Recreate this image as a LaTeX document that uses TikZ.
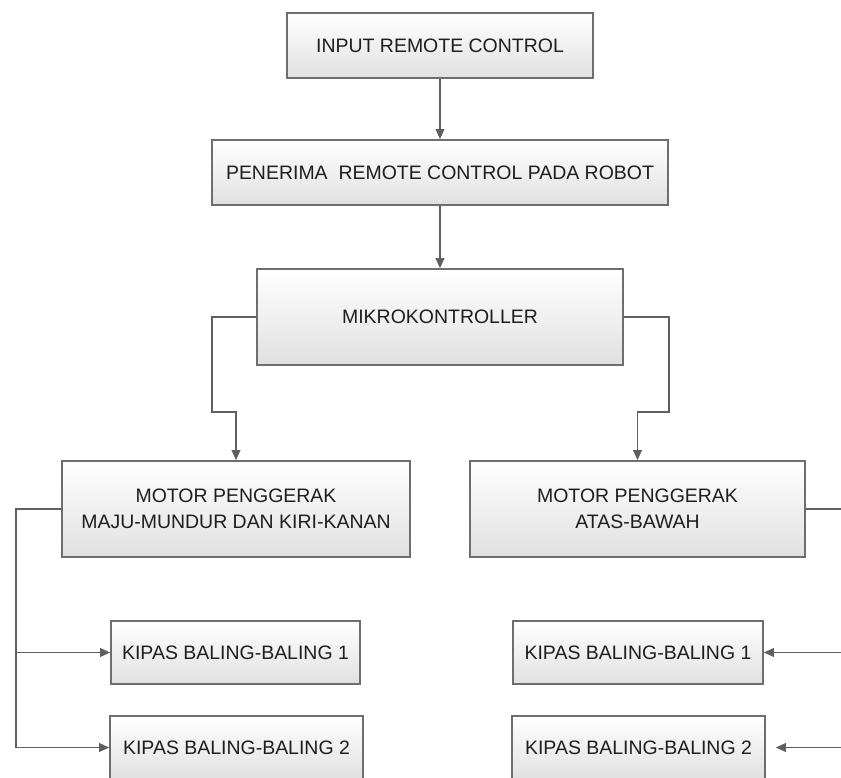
\documentclass[tikz,border=0pt]{standalone}
\usepackage{fontspec}
\setmainfont{Liberation Sans}
\usepackage{tikz}
\usetikzlibrary{arrows.meta,shadows}
\definecolor{boxline}{RGB}{110,110,110}
\definecolor{boxtext}{RGB}{30,30,30}
\definecolor{wireline}{RGB}{95,95,95}

\begin{document}
\begin{tikzpicture}[x=0.75pt, y=-0.75pt,
    blok/.style={draw=boxline, line width=1.2pt, top color=white, bottom color=black!12,
        text=boxtext, font=\fontsize{14.6}{19.3}\selectfont, align=center, inner sep=0pt,
        drop shadow={shadow xshift=0.8pt, shadow yshift=-0.8pt, opacity=0.25}},
    wire/.style={draw=wireline, line width=1.1pt},
    arr/.style={wire, -{Triangle[length=7.5pt,width=6.5pt]}}]
    \useasboundingbox (0,0) rectangle (841,777);
    \clip (0,0) rectangle (841,777);

    % Remote and receiver
    \node[blok, minimum width=229.5pt, minimum height=48.75pt] (inp) at (440,45.5) {INPUT REMOTE CONTROL};
    \node[blok, minimum width=342pt, minimum height=48.75pt] (rcv) at (440,172.5) {PENERIMA~ REMOTE CONTROL PADA ROBOT};

    % Controller
    \node[blok, minimum width=274.5pt, minimum height=72pt] (mcu) at (440,317) {MIKROKONTROLLER};

    % Drive motors
    \node[blok, minimum width=261pt, minimum height=72pt] (motorA) at (236,509) {MOTOR PENGGERAK\\MAJU-MUNDUR DAN KIRI-KANAN};
    \node[blok, minimum width=251.25pt, minimum height=72pt] (motorB) at (637.5,509) {MOTOR PENGGERAK\\ATAS-BAWAH};

    % Propellers
    \node[blok, minimum width=186.75pt, minimum height=47.25pt] (kipasA1) at (235.5,652.5) {KIPAS BALING-BALING 1};
    \node[blok, minimum width=189.75pt, minimum height=47.25pt] (kipasA2) at (236.5,747.5) {KIPAS BALING-BALING 2};
    \node[blok, minimum width=187.5pt, minimum height=47.25pt] (kipasB1) at (638,652.5) {KIPAS BALING-BALING 1};
    \node[blok, minimum width=189.75pt, minimum height=47.25pt] (kipasB2) at (638.5,747.5) {KIPAS BALING-BALING 2};

    % Bends and free ends
    \coordinate (bendL) at (212,412);
    \coordinate (bendR) at (669,412);
    \coordinate (busL) at (16,747.5);
    \coordinate (offR) at (850,509);

    % Connectors
    \draw[arr] (inp) -- (rcv);
    \draw[arr] (rcv) -- (mcu);
    \draw[arr] (mcu.west) -| (bendL) -| (motorA);
    \draw[arr] (mcu.east) -| (bendR) -| (motorB);
    \draw[arr] (motorA.west) -| (busL) -- (kipasA2.west);
    \draw[arr] (busL |- kipasA1.west) -- (kipasA1.west);
    \draw[wire] (motorB.east) -- (offR);
    \draw[arr] (offR |- kipasB1.east) -- (kipasB1.east);
    \draw[arr, shorten >=7.5pt] (offR |- kipasB2.east) -- (kipasB2.east);
\end{tikzpicture}
\end{document}
